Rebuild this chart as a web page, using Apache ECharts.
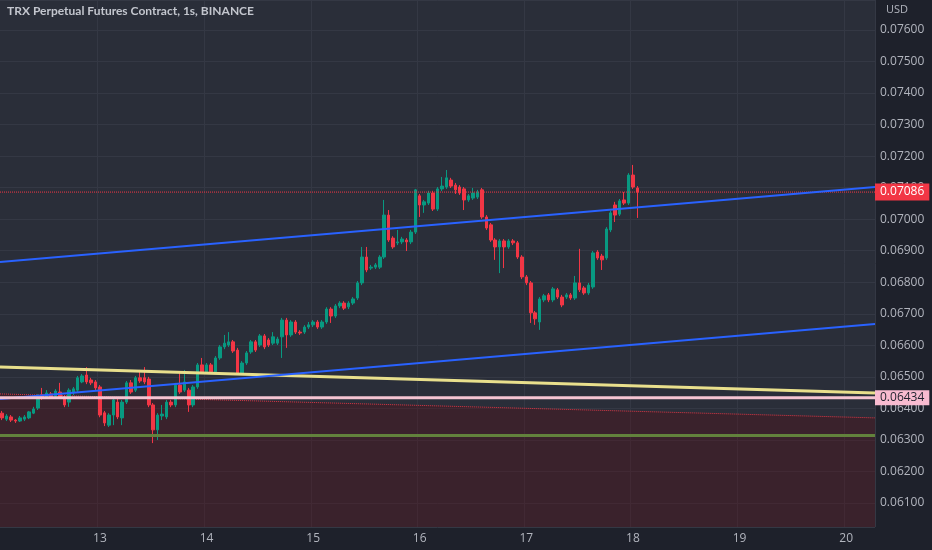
<!DOCTYPE html>
<html><head><meta charset="utf-8">
<script src="https://cdn.jsdelivr.net/npm/echarts@6/dist/echarts.min.js"></script>
<style>html,body{margin:0;padding:0;background:#1e212b}#c{width:932px;height:550px}</style>
</head><body><div id="c"></div>
<script>
const chartTitle = 'TRX Perpetual Futures Contract, 1s, BINANCE';
const currency = 'USD';
const startDay = 12, startHour = 2, slotCount = 197;

const open = [
0.06385,0.06366,0.06373,0.06363,0.06360,0.06366,0.06370,0.06385,0.06401,0.06443,
0.06436,0.06446,0.06439,0.06452,0.06436,0.06420,0.06449,0.06458,0.06484,0.06506,
0.06490,0.06484,0.06468,0.06386,0.06347,0.06379,0.06420,0.06370,0.06420,0.06481,
0.06458,0.06497,0.06497,0.06493,0.06411,0.06332,0.06376,0.06373,0.06420,0.06411,
0.06474,0.06458,0.06458,0.06411,0.06468,0.06538,0.06516,0.06538,0.06516,0.06560,
0.06595,0.06601,0.06611,0.06585,0.06512,0.06544,0.06579,0.06611,0.06601,0.06630,
0.06617,0.06607,0.06607,0.06627,0.06680,0.06633,0.06674,0.06642,0.06642,0.06658,
0.06665,0.06674,0.06658,0.06674,0.06715,0.06693,0.06725,0.06734,0.06722,0.06734,
0.06750,0.06798,0.06880,0.06845,0.06848,0.06848,0.06880,0.07013,0.06940,0.06925,
0.06928,0.06934,0.06928,0.06959,0.07074,0.07045,0.07051,0.07083,0.07032,0.07096,
0.07102,0.07124,0.07108,0.07102,0.07096,0.07061,0.07067,0.07070,0.07093,0.07007,
0.06982,0.06934,0.06912,0.06931,0.06912,0.06931,0.06925,0.06880,0.06817,0.06798,
0.06703,0.06674,0.06744,0.06760,0.06744,0.06776,0.06753,0.06753,0.06760,0.06750,
0.06798,0.06782,0.06766,0.06785,0.06896,0.06883,0.06877,0.06966,0.07045,0.07016,
0.07061,0.07051,0.07140,0.07099];
const close = [
0.06370,0.06376,0.06363,0.06360,0.06370,0.06373,0.06389,0.06398,0.06439,0.06433,
0.06449,0.06436,0.06455,0.06436,0.06411,0.06458,0.06462,0.06497,0.06503,0.06484,
0.06481,0.06465,0.06379,0.06354,0.06379,0.06427,0.06373,0.06420,0.06481,0.06452,
0.06497,0.06487,0.06484,0.06411,0.06332,0.06379,0.06382,0.06420,0.06411,0.06474,
0.06452,0.06484,0.06411,0.06468,0.06538,0.06516,0.06538,0.06516,0.06560,0.06595,
0.06607,0.06611,0.06582,0.06512,0.06544,0.06576,0.06611,0.06585,0.06630,0.06595,
0.06601,0.06627,0.06620,0.06680,0.06633,0.06674,0.06642,0.06639,0.06658,0.06665,
0.06674,0.06658,0.06674,0.06715,0.06693,0.06725,0.06734,0.06718,0.06734,0.06747,
0.06798,0.06880,0.06839,0.06848,0.06855,0.06880,0.07013,0.06934,0.06912,0.06928,
0.06937,0.06928,0.06959,0.07093,0.07045,0.07055,0.07083,0.07032,0.07096,0.07105,
0.07131,0.07105,0.07093,0.07083,0.07061,0.07074,0.07083,0.07086,0.07007,0.06972,
0.06934,0.06912,0.06931,0.06912,0.06931,0.06925,0.06880,0.06817,0.06798,0.06703,
0.06684,0.06747,0.06757,0.06744,0.06779,0.06753,0.06728,0.06760,0.06750,0.06798,
0.06776,0.06766,0.06791,0.06893,0.06877,0.06871,0.06969,0.07020,0.07013,0.07058,
0.07051,0.07140,0.07102,0.07086];
const low = [
0.06363,0.06360,0.06357,0.06354,0.06357,0.06360,0.06366,0.06382,0.06395,0.06427,
0.06430,0.06430,0.06433,0.06430,0.06404,0.06405,0.06442,0.06452,0.06480,0.06477,
0.06474,0.06458,0.06372,0.06344,0.06341,0.06347,0.06366,0.06347,0.06414,0.06446,
0.06452,0.06481,0.06477,0.06404,0.06290,0.06300,0.06363,0.06366,0.06404,0.06404,
0.06446,0.06452,0.06389,0.06404,0.06462,0.06509,0.06509,0.06509,0.06509,0.06554,
0.06588,0.06595,0.06576,0.06506,0.06506,0.06538,0.06573,0.06579,0.06595,0.06588,
0.06595,0.06601,0.06601,0.06560,0.06592,0.06627,0.06636,0.06633,0.06636,0.06652,
0.06658,0.06652,0.06652,0.06668,0.06671,0.06687,0.06718,0.06712,0.06715,0.06728,
0.06744,0.06791,0.06832,0.06839,0.06842,0.06842,0.06874,0.06928,0.06906,0.06918,
0.06921,0.06899,0.06921,0.06953,0.07007,0.07020,0.07045,0.07026,0.07026,0.07089,
0.07096,0.07099,0.07080,0.07077,0.07029,0.07055,0.07061,0.07064,0.07001,0.06966,
0.06928,0.06871,0.06829,0.06845,0.06906,0.06918,0.06874,0.06810,0.06791,0.06671,
0.06665,0.06649,0.06737,0.06737,0.06737,0.06747,0.06721,0.06747,0.06744,0.06744,
0.06769,0.06760,0.06760,0.06779,0.06871,0.06839,0.06871,0.06959,0.06991,0.07010,
0.07045,0.07045,0.07096,0.07004];
const high = [
0.06392,0.06382,0.06379,0.06366,0.06376,0.06379,0.06392,0.06405,0.06445,0.06465,
0.06458,0.06452,0.06461,0.06481,0.06442,0.06464,0.06468,0.06503,0.06509,0.06531,
0.06497,0.06490,0.06474,0.06392,0.06385,0.06433,0.06430,0.06427,0.06487,0.06490,
0.06503,0.06522,0.06531,0.06500,0.06417,0.06385,0.06411,0.06427,0.06427,0.06481,
0.06516,0.06522,0.06465,0.06474,0.06544,0.06560,0.06544,0.06544,0.06566,0.06601,
0.06633,0.06642,0.06617,0.06592,0.06550,0.06582,0.06617,0.06617,0.06636,0.06636,
0.06623,0.06642,0.06627,0.06687,0.06687,0.06680,0.06680,0.06648,0.06664,0.06674,
0.06680,0.06680,0.06680,0.06721,0.06721,0.06731,0.06740,0.06740,0.06740,0.06753,
0.06804,0.06912,0.06912,0.06855,0.06861,0.06886,0.07061,0.07029,0.06946,0.06966,
0.06944,0.06940,0.06966,0.07096,0.07080,0.07061,0.07090,0.07090,0.07102,0.07134,
0.07156,0.07131,0.07115,0.07108,0.07102,0.07080,0.07099,0.07093,0.07099,0.07013,
0.06988,0.06940,0.06937,0.06937,0.06937,0.06937,0.06931,0.06886,0.06823,0.06804,
0.06709,0.06753,0.06763,0.06766,0.06785,0.06782,0.06760,0.06766,0.06766,0.06820,
0.06906,0.06788,0.06798,0.06899,0.06902,0.06890,0.06975,0.07026,0.07055,0.07064,
0.07086,0.07146,0.07172,0.07105];

// drawing lines: value at left edge, value at right edge
const blueUpper = [0.06864, 0.07102];
const blueLower = [0.06430, 0.06668];
const yellowLine = [0.06531, 0.06449];
const redZoneTop = [0.06446, 0.06370];
const pinkLevel = 0.06434;
const greenLevel = 0.06314;
const lastPrice = 0.07086;
const yMin = 0.06024, yMax = 0.07695;

const categories = [];
for (let k = 0; k < slotCount; k++) {
  const h = startHour + k;
  const d = startDay + Math.floor(h / 24);
  const hh = h % 24;
  categories.push(d + ' ' + String(hh).padStart(2, '0') + ':00');
}
const candles = open.map((o, i) => [o, close[i], low[i], high[i]]);
const isDay = (idx) => categories[idx] && categories[idx].endsWith(' 00:00');
const seg = (arr) => [[0, arr[0]], [slotCount, arr[1]]];
const level = (v) => [[0, v], [slotCount, v]];

const chart = echarts.init(document.getElementById('c'));
const txt = '#b2b5be';
chart.setOption({
  animation: false,
  backgroundColor: '#1e212b',
  textStyle: { fontFamily: 'Open Sans' },
  grid: { left: 0, right: 57, top: 0, bottom: 23, show: true, backgroundColor: '#2a2e39', borderWidth: 0 },
  graphic: [
    { type: 'text', left: 7, top: 5, z: 10, style: { text: chartTitle, fill: '#c3c6ce', font: 'bold 12px Lato' } },
    { type: 'text', left: 886, top: 4, z: 10, style: { text: currency, fill: txt, font: '11px "Open Sans"' } }
  ],
  xAxis: [
    { type: 'category', data: categories, boundaryGap: true,
      axisLine: { show: false }, axisTick: { show: false },
      axisLabel: { interval: (i) => isDay(i), formatter: (v) => v.split(' ')[0], color: txt, fontSize: 12, margin: 6 },
      splitLine: { show: true, interval: (i) => isDay(i), lineStyle: { color: '#343844', width: 1 } } },
    { type: 'value', min: 0, max: slotCount, show: false }
  ],
  yAxis: {
    type: 'value', position: 'right', min: yMin, max: yMax, splitNumber: 16, scale: true,
    axisLine: { show: false }, axisTick: { show: false },
    axisLabel: { formatter: (v) => v.toFixed(5), showMinLabel: false, showMaxLabel: false, color: txt, fontSize: 12, margin: 5 },
    splitLine: { lineStyle: { color: '#343844', width: 1 } }
  },
  series: [
    { type: 'line', xAxisIndex: 1, z: 1, data: seg(redZoneTop), symbol: 'none',
      lineStyle: { color: '#f23645', type: 'dotted', width: 1, opacity: 0.9 },
      areaStyle: { color: 'rgba(95,10,19,0.45)', origin: 'start' } },
    { type: 'candlestick', data: candles, z: 3, barWidth: 3,
      itemStyle: { color: '#089981', color0: '#f23645', borderColor: '#089981', borderColor0: '#f23645', borderWidth: 1 } },
    { type: 'line', xAxisIndex: 1, z: 4, data: level(greenLevel), symbol: 'none', lineStyle: { color: '#62823c', width: 3 } },
    { type: 'line', xAxisIndex: 1, z: 4, data: level(lastPrice), symbol: 'none', lineStyle: { color: '#f23645', type: 'dotted', width: 1 },
      endLabel: { show: true, distance: 0, formatter: () => lastPrice.toFixed(5), backgroundColor: '#f23645', color: '#ffffff', padding: [3, 5, 2, 5], fontSize: 12 } },
    { type: 'line', xAxisIndex: 1, z: 4, data: seg(yellowLine), symbol: 'none', lineStyle: { color: '#e8df8c', width: 3 } },
    { type: 'line', xAxisIndex: 1, z: 4, data: seg(blueUpper), symbol: 'none', lineStyle: { color: '#2962ff', width: 2 } },
    { type: 'line', xAxisIndex: 1, z: 4, data: seg(blueLower), symbol: 'none', lineStyle: { color: '#2962ff', width: 2 } },
    { type: 'line', xAxisIndex: 1, z: 5, data: level(pinkLevel), symbol: 'none', lineStyle: { color: '#f5c4d2', width: 3 },
      endLabel: { show: true, distance: 0, formatter: () => pinkLevel.toFixed(5), backgroundColor: '#f8bbd0', color: '#1e222d', padding: [2, 5, 1, 5], fontSize: 12 } }
  ]
});
</script></body></html>
